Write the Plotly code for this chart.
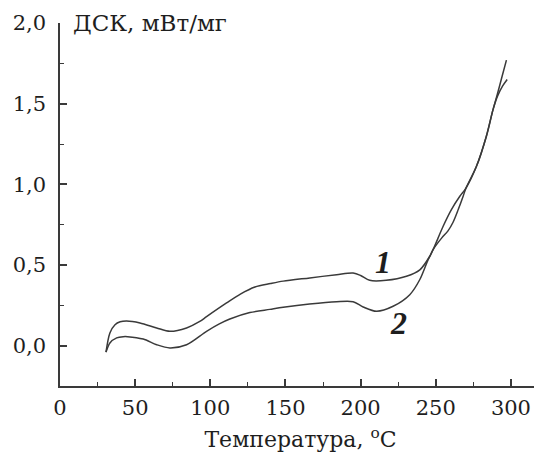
import plotly.graph_objects as go

# Curve 1 (upper at low temperatures)
temp_1 = [30.6, 33.2, 36.6, 40.0, 44.3, 53.2, 64.3, 73.1, 84.2, 93.0, 97.5, 110.8, 120.0,
          129.7, 140.0, 148.5, 166.2, 184.0, 195.0, 200.0, 206.0, 217.0, 230.5, 239.4,
          246.0, 248.2, 254.0, 258.0, 261.5, 265.0, 268.2, 270.0, 277.0, 283.7, 288.0, 291.0,
          294.5, 297.5]
dsc_1 = [-0.04, 0.079, 0.13, 0.148, 0.153, 0.141, 0.11, 0.089, 0.11, 0.15, 0.18, 0.265, 0.32,
         0.364, 0.385, 0.40, 0.42, 0.44, 0.45, 0.435, 0.405, 0.405, 0.43, 0.47,
         0.554, 0.595, 0.668, 0.71, 0.765, 0.845, 0.926, 0.975, 1.11, 1.30, 1.46, 1.545,
         1.61, 1.65]

# Curve 2 (lower at low temperatures)
temp_2 = [30.6, 33.2, 37.7, 42.0, 45.0, 55.4, 64.3, 73.1, 84.2, 97.5, 106.0, 113.0, 126.3,
          139.6, 148.5, 166.0, 184.0, 195.0, 201.7, 210.6, 221.6, 232.7, 239.4, 244.9,
          248.2, 254.9, 260.4, 266.0, 270.0, 277.0, 283.7, 288.0, 291.0, 294.0, 297.0]
dsc_2 = [-0.04, 0.017, 0.048, 0.056, 0.056, 0.041, 0.006, -0.014, 0.006, 0.089, 0.135, 0.165, 0.205,
         0.225, 0.238, 0.258, 0.272, 0.272, 0.24, 0.213, 0.244, 0.316, 0.41, 0.533,
         0.595, 0.74, 0.843, 0.926, 0.975, 1.11, 1.30, 1.46, 1.56, 1.665, 1.77]

curve_labels = ["1", "2"]
label_pos_x = [215, 225]
label_pos_y = [0.52, 0.14]

x_axis_title = "Температура, <sup>o</sup>C"
y_axis_title = "ДСК, мВт/мг"

LINE = "#3a3a3a"
TEXT = "#1e1e1e"
FONT = "DejaVu Serif"

fig = go.Figure()
for tx, ty in [(temp_1, dsc_1), (temp_2, dsc_2)]:
    fig.add_trace(go.Scatter(x=tx, y=ty, mode="lines",
                             line=dict(color=LINE, width=1.5, shape="spline", smoothing=0.85),
                             hoverinfo="skip"))

for lab, lx, ly in zip(curve_labels, label_pos_x, label_pos_y):
    fig.add_annotation(x=lx, y=ly, xref="x", yref="y", text=f"<b><i>{lab}</i></b>",
                       showarrow=False, font=dict(family="Liberation Serif", size=32, color=TEXT))

fig.add_annotation(x=0, y=1, xref="paper", yref="paper", xanchor="left", yanchor="middle",
                   xshift=11, text=y_axis_title, showarrow=False,
                   font=dict(family=FONT, size=23, color=TEXT))

# page body has an 8px margin, so the figure is shrunk by that amount
fig.update_layout(
    width=534, height=451,
    margin=dict(l=52, r=1, t=15, b=73),
    plot_bgcolor="white", paper_bgcolor="white",
    showlegend=False,
    separators=", ",
)
fig.update_xaxes(range=[0, 320], showline=True, linecolor=LINE, linewidth=1.5,
                 ticks="inside", ticklen=7, tickwidth=1.5, tickcolor=LINE,
                 tick0=0, dtick=50, showgrid=False, zeroline=False,
                 minor=dict(ticks="inside", ticklen=4, tickwidth=1.2, tickcolor=LINE, tick0=0, dtick=25, showgrid=False),
                 tickfont=dict(family=FONT, size=21, color=TEXT), ticklabelstandoff=2,
                 title=dict(text=x_axis_title, font=dict(family=FONT, size=22, color=TEXT), standoff=13))
fig.update_yaxes(range=[-0.25, 2.0], showline=True, linecolor=LINE, linewidth=1.5,
                 ticks="inside", ticklen=7, tickwidth=1.5, tickcolor=LINE,
                 tick0=0, dtick=0.5, tickformat=".1f", showgrid=False, zeroline=False,
                 minor=dict(ticks="inside", ticklen=4, tickwidth=1.2, tickcolor=LINE, tick0=0, dtick=0.25, showgrid=False),
                 tickfont=dict(family=FONT, size=21, color=TEXT), ticklabelstandoff=8)

fig.write_html("out.html")
